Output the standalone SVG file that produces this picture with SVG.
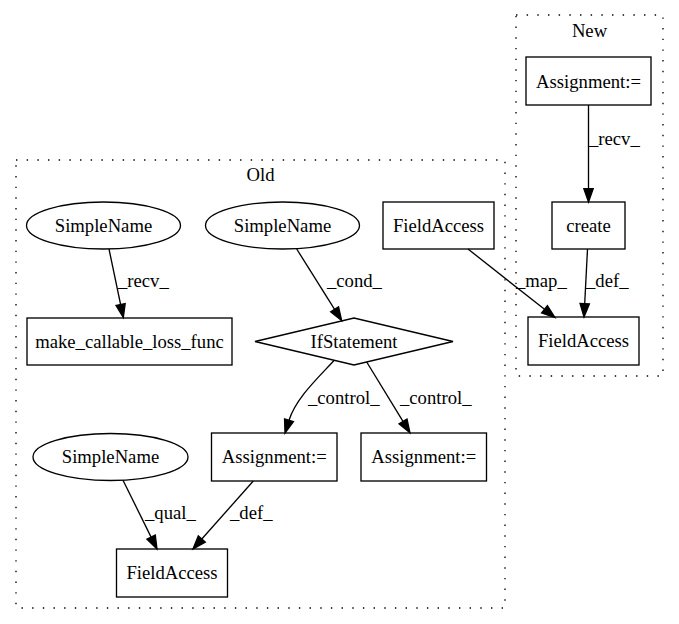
<svg xmlns="http://www.w3.org/2000/svg" width="679" height="624" viewBox="0 0 679 624">
<style>
  text { font-family: "Liberation Serif", "Times New Roman", serif; font-size: 18.67px; fill: #000; }
  .c { text-anchor: middle; }
  .node { fill: none; stroke: #000; stroke-width: 1.33; }
  .cluster { fill: none; stroke: #000; stroke-width: 1.33; stroke-dasharray: 1.4 9.27; }
  .edge { fill: none; stroke: #000; stroke-width: 1.33; marker-end: url(#arrow); }
</style>
<defs>
  <marker id="arrow" markerUnits="userSpaceOnUse" markerWidth="16" markerHeight="12" refX="0" refY="0" viewBox="-1 -6 16 12" orient="auto" overflow="visible">
    <path d="M0,-4.67 L13.3,0 L0,4.67 Z" fill="#000" stroke="#000" stroke-width="1.33"/>
  </marker>
</defs>
<rect width="679" height="624" fill="#fff"/>
<g id="cluster-old">
  <rect class="cluster" x="16" y="160" width="489" height="448"/>
  <text class="c" x="260.5" y="181">Old</text>
</g>
<g id="cluster-new">
  <rect class="cluster" x="516" y="15" width="147" height="361"/>
  <text class="c" x="589.5" y="37">New</text>
</g>
<g id="connectors">
  <path class="edge" d="M588.5,105 L588.5,188.7"/>
  <text x="589" y="145">_recv_</text>
  <path class="edge" d="M587.5,249 L584.7,303.7"/>
  <text x="586" y="287">_def_</text>
  <path class="edge" d="M468,249 L544.5,309.3"/>
  <text x="516" y="287">_map_</text>
  <path class="edge" d="M109,249 L120.6,304.5"/>
  <text x="118" y="287">_recv_</text>
  <path class="edge" d="M296.7,249 L334.6,309.3"/>
  <text x="327" y="287">_cond_</text>
  <path class="edge" d="M334,360.5 C318,378 296,398 289,420.3"/>
  <text x="308" y="404">_control_</text>
  <path class="edge" d="M366.7,362 L403,421.4"/>
  <text x="400" y="404">_control_</text>
  <path class="edge" d="M123,480.2 L151.1,537.1"/>
  <text x="145" y="519">_qual_</text>
  <path class="edge" d="M253.3,481 L201.8,539"/>
  <text x="230" y="519">_def_</text>
</g>
<g id="new-assignment">
  <rect class="node" x="526" y="57" width="125" height="48"/>
  <text class="c" x="588.5" y="87.5">Assignment:=</text>
</g>
<g id="create">
  <rect class="node" x="552" y="202" width="73" height="47"/>
  <text class="c" x="588.5" y="231.5">create</text>
</g>
<g id="new-fieldaccess">
  <rect class="node" x="528" y="317" width="111" height="48"/>
  <text class="c" x="583.5" y="347">FieldAccess</text>
</g>
<g id="old-fieldaccess-top">
  <rect class="node" x="383" y="202" width="111" height="47"/>
  <text class="c" x="438.5" y="231.5">FieldAccess</text>
</g>
<g id="simplename-1">
  <ellipse class="node" cx="103.5" cy="225.5" rx="77" ry="23.5"/>
  <text class="c" x="103.5" y="231.5">SimpleName</text>
</g>
<g id="simplename-2">
  <ellipse class="node" cx="282.5" cy="225.5" rx="77" ry="23.5"/>
  <text class="c" x="282.5" y="231.5">SimpleName</text>
</g>
<g id="make-callable">
  <rect class="node" x="27" y="318" width="205" height="47"/>
  <text class="c" x="129.5" y="347.5">make_callable_loss_func</text>
</g>
<g id="ifstatement">
  <polygon class="node" points="255,341.5 354,318 453,341.5 354,365"/>
  <text class="c" x="354" y="347.5">IfStatement</text>
</g>
<g id="old-assignment-1">
  <rect class="node" x="211.5" y="433" width="125.5" height="48"/>
  <text class="c" x="274.25" y="463">Assignment:=</text>
</g>
<g id="old-assignment-2">
  <rect class="node" x="361" y="433" width="125.5" height="48"/>
  <text class="c" x="423.75" y="463">Assignment:=</text>
</g>
<g id="simplename-3">
  <ellipse class="node" cx="110.5" cy="457" rx="77.5" ry="23.5"/>
  <text class="c" x="110.5" y="463">SimpleName</text>
</g>
<g id="old-fieldaccess-bottom">
  <rect class="node" x="116.5" y="549" width="111" height="48"/>
  <text class="c" x="172" y="579">FieldAccess</text>
</g>
</svg>
